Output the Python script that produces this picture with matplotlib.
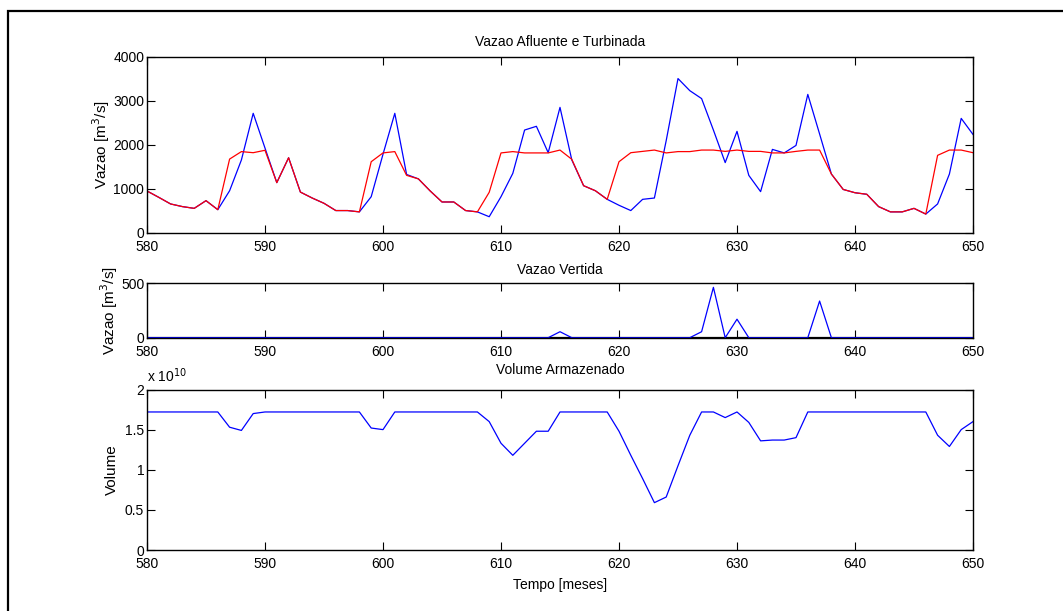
import matplotlib
matplotlib.use("Agg")
import matplotlib.pyplot as plt
import numpy as np
from matplotlib.patches import Rectangle
from matplotlib.ticker import FuncFormatter

plt.rcParams['font.family'] = ['Liberation Sans', 'DejaVu Sans']
plt.rcParams['font.size'] = 10

# months on the x axis
meses = list(range(580, 651))

# inflow (blue) and turbined flow (red), m3/s
afluente = [955, 810, 660, 600, 560, 735, 530, 960, 1660, 2720,
            1930, 1145, 1710, 930, 795, 675, 510, 510, 480, 825,
            1790, 2720, 1330, 1230, 955, 705, 705, 510, 480, 370,
            825, 1355, 2340, 2425, 1825, 2855, 1660, 1075, 960, 765,
            630, 510, 765, 795, 2100, 3510, 3235, 3055, 2340, 1600,
            2310, 1310, 940, 1900, 1820, 1990, 3150, 2250, 1340, 990,
            915, 880, 600, 480, 480, 560, 430, 660, 1340, 2605,
            2240]
turbinada = [955, 810, 660, 600, 560, 735, 530, 1680, 1850, 1825,
             1880, 1145, 1710, 930, 795, 675, 510, 510, 480, 1620,
             1820, 1850, 1310, 1230, 955, 705, 705, 510, 480, 925,
             1820, 1850, 1820, 1820, 1820, 1885, 1675, 1075, 960, 765,
             1620, 1825, 1855, 1885, 1820, 1850, 1850, 1885, 1885, 1855,
             1885, 1855, 1855, 1820, 1820, 1855, 1885, 1885, 1340, 990,
             915, 880, 600, 480, 480, 560, 430, 1765, 1885, 1885,
             1825]

# spilled flow, m3/s
vertida = [0] * 71
vertida[615 - 580] = 55
vertida[627 - 580] = 55
vertida[628 - 580] = 463
vertida[630 - 580] = 170
vertida[637 - 580] = 337

# stored volume
volume = [1.72e10] * 71
quedas = {587: 1.53, 588: 1.49, 589: 1.70,
          599: 1.52, 600: 1.50,
          609: 1.60, 610: 1.33, 611: 1.18, 612: 1.33, 613: 1.48, 614: 1.48,
          620: 1.48, 621: 1.18, 622: 0.89, 623: 0.59, 624: 0.66, 625: 1.05,
          626: 1.43, 629: 1.65, 631: 1.59, 632: 1.36, 633: 1.37, 634: 1.37,
          635: 1.40, 647: 1.43, 648: 1.29, 649: 1.50, 650: 1.60}
for m, v in quedas.items():
    volume[m - 580] = v * 1e10

W, H = 1063, 611
fig = plt.figure(figsize=(W / 100, H / 100), dpi=100)

# outer frame (cut off on the right and bottom)
fig.patches.append(Rectangle((8 / W, -0.1), 1.2, 1.1 - 11 / H, transform=fig.transFigure,
                             fill=False, edgecolor='black', linewidth=1.6))

left, width = 147 / W, 826 / W
ax1 = fig.add_axes([left, 1 - 233 / H, width, 176 / H])
ax2 = fig.add_axes([left, 1 - 337.7 / H, width, 54.4 / H])
ax3 = fig.add_axes([left, 1 - 550 / H, width, 160.5 / H])

lw = 0.9
ax1.plot(meses, afluente, color=(0, 0, 1), linewidth=lw)
ax1.plot(meses, turbinada, color=(1, 0, 0), linewidth=lw)
ax1.set_ylim(0, 4000)
ax1.set_yticks([0, 1000, 2000, 3000, 4000])
ax1.set_title('Vazao Afluente e Turbinada', fontsize=10, pad=8)
ax1.set_ylabel('Vazao [m$^3$/s]', fontsize=11, labelpad=1)

ax2.plot(meses, [0] * 71, color='black', linewidth=1.6)
ax2.plot(meses, vertida, color=(0, 0, 1), linewidth=lw)
ax2.set_ylim(0, 500)
ax2.set_yticks([0, 500])
ax2.set_title('Vazao Vertida', fontsize=10, pad=7)
ax2.set_ylabel('Vazao [m$^3$/s]', fontsize=11, labelpad=1)

ax3.plot(meses, volume, color=(0, 0, 1), linewidth=lw)
ax3.set_ylim(0, 2e10)
ax3.set_yticks([0, 0.5e10, 1e10, 1.5e10, 2e10])
ax3.yaxis.set_major_formatter(FuncFormatter(lambda v, p: '%g' % (v / 1e10)))
ax3.set_title('Volume Armazenado', fontsize=10, pad=11)
ax3.set_ylabel('Volume', fontsize=11, labelpad=4)
ax3.set_xlabel('Tempo [meses]', fontsize=10, labelpad=5)
ax3.text(0.0, 1.03, 'x 10$^{10}$', transform=ax3.transAxes, fontsize=10,
         ha='left', va='bottom')

for ax in (ax1, ax2, ax3):
    ax.set_xlim(580, 650)
    ax.set_xticks(range(580, 651, 10))
    ax.tick_params(direction='in', length=6, width=0.8, top=True, right=True,
                   labelsize=10)
    ax.tick_params(axis='x', pad=5)
    ax.tick_params(axis='y', pad=2)
    for s in ax.spines.values():
        s.set_linewidth(1.0)

fig.savefig('out.png', dpi=100)
